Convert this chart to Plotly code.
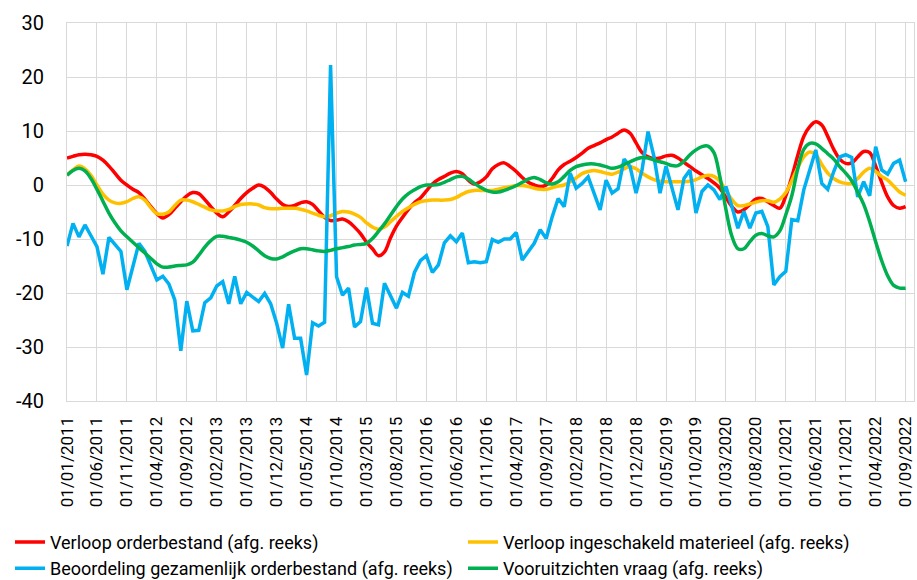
import pandas as pd
import plotly.graph_objects as go

months = pd.date_range("2011-01-01", "2022-09-01", freq="MS").strftime("%d/%m/%Y").tolist()

tick_labels = ["01/01/2011", "01/06/2011", "01/11/2011", "01/04/2012", "01/09/2012",
               "01/02/2013", "01/07/2013", "01/12/2013", "01/05/2014", "01/10/2014",
               "01/03/2015", "01/08/2015", "01/01/2016", "01/06/2016", "01/11/2016",
               "01/04/2017", "01/09/2017", "01/02/2018", "01/07/2018", "01/12/2018",
               "01/05/2019", "01/10/2019", "01/03/2020", "01/08/2020", "01/01/2021",
               "01/06/2021", "01/11/2021", "01/04/2022", "01/09/2022"]

y_ticks = [30, 20, 10, 0, -10, -20, -30, -40]

red = [5.0, 5.3, 5.6, 5.7, 5.6, 5.3, 4.6, 3.5, 2.2, 0.9,
       0.0, -0.8, -1.4, -2.6, -4.0, -5.3, -6.1, -5.5, -4.3, -3.1,
       -2.0, -1.4, -1.6, -2.7, -4.0, -5.2, -5.9, -5.0, -3.8, -2.5,
       -1.4, -0.6, 0.0, -0.4, -1.4, -2.6, -3.6, -4.0, -3.8, -3.3,
       -3.1, -3.6, -4.8, -6.0, -6.6, -6.5, -6.3, -6.8, -7.8, -9.0,
       -10.6, -11.8, -13.1, -12.4, -9.8, -7.6, -6.0, -4.5, -3.3, -2.4,
       -1.1, 0.2, 1.0, 1.6, 2.2, 2.5, 2.1, 0.9, 0.2, 0.6,
       1.5, 3.0, 3.8, 4.1, 3.4, 2.5, 1.4, 0.5, 0.0, -0.3,
       0.0, 1.2, 2.8, 3.8, 4.4, 5.1, 5.9, 6.8, 7.3, 7.8,
       8.4, 8.9, 9.6, 10.2, 9.6, 7.8, 6.0, 5.2, 4.9, 5.0,
       5.4, 5.5, 5.0, 4.2, 3.4, 2.6, 1.9, 1.2, 0.4, -0.6,
       -2.3, -4.0, -5.0, -4.6, -3.6, -2.6, -2.5, -3.1, -3.8, -4.3,
       -2.0, 1.5, 5.5, 9.0, 10.8, 11.7, 11.1, 9.0, 6.6, 4.8,
       4.0, 4.1, 5.2, 6.2, 6.0, 3.5, 0.5, -2.2, -3.8, -4.3,
       -4.0]

yellow = [1.8, 2.8, 3.5, 3.0, 1.8, 0.0, -1.7, -2.8, -3.3, -3.4,
          -3.1, -2.5, -2.2, -2.8, -4.2, -5.3, -5.4, -5.0, -3.8, -2.8,
          -2.8, -3.1, -3.6, -4.1, -4.6, -4.8, -4.8, -4.5, -4.0, -3.6,
          -3.5, -3.5, -3.7, -4.2, -4.4, -4.4, -4.3, -4.3, -4.3, -4.5,
          -4.8, -5.2, -5.6, -5.9, -5.7, -5.2, -4.9, -5.0, -5.4, -6.0,
          -7.0, -7.8, -8.2, -7.8, -6.8, -5.8, -4.9, -4.2, -3.6, -3.1,
          -2.9, -2.8, -2.8, -2.8, -2.7, -2.3, -1.7, -1.2, -1.0, -1.0,
          -1.0, -1.0, -0.8, -0.5, -0.3, -0.1, -0.1, -0.3, -0.6, -0.8,
          -0.8, -0.5, -0.2, 0.0, 0.6, 1.3, 2.1, 2.5, 2.7, 2.5,
          2.2, 2.0, 2.4, 3.0, 3.4, 3.0, 2.2, 1.5, 1.0, 0.7,
          0.6, 0.6, 0.6, 0.6, 0.7, 1.0, 1.5, 1.8, 1.6, 0.7,
          -1.0, -2.7, -3.8, -3.8, -3.5, -3.2, -2.9, -2.9, -3.2, -2.6,
          -1.4, 0.8, 3.2, 5.2, 6.1, 5.6, 3.8, 2.2, 1.2, 0.6,
          0.3, 0.3, 1.2, 2.4, 3.1, 2.5, 1.6, 0.9, -0.2, -1.3,
          -1.9]

blue = [-11.3, -7.1, -9.6, -7.4, -9.4, -11.4, -16.5, -9.7, -11.0, -12.3,
        -19.4, -15.0, -10.8, -12.3, -15.0, -17.6, -16.9, -18.3, -21.3, -30.7,
        -21.5, -27.0, -26.9, -21.8, -20.9, -18.7, -17.9, -22.0, -16.9, -22.0,
        -19.9, -20.8, -21.6, -20.1, -22.0, -25.6, -30.2, -22.1, -28.4, -28.4,
        -35.2, -25.5, -26.1, -25.4, 22.2, -17.0, -20.4, -19.1, -26.3, -25.3,
        -19.0, -25.6, -25.9, -18.2, -20.4, -22.8, -19.9, -20.6, -16.2, -14.0,
        -13.1, -16.2, -14.8, -10.7, -9.4, -10.5, -8.9, -14.4, -14.2, -14.4,
        -14.2, -10.1, -10.6, -10.0, -10.0, -8.8, -13.9, -12.3, -10.8, -8.3,
        -9.9, -5.9, -2.5, -4.0, 2.2, -0.6, 0.3, 1.5, -1.5, -4.6,
        0.9, -1.5, -0.7, 4.8, 3.4, -1.5, 2.8, 9.9, 5.2, -1.5,
        3.5, -0.3, -4.6, 1.2, 2.8, -5.2, -1.2, 0.0, -0.9, -2.7,
        -0.3, -4.0, -8.0, -4.9, -8.0, -5.2, -4.9, -7.7, -18.5, -17.0,
        -16.0, -6.4, -6.6, -0.9, 3.1, 6.5, 0.3, -0.8, 2.5, 5.2,
        5.6, 5.1, -2.2, 0.6, -2.0, 7.1, 2.8, 2.0, 4.0, 4.6,
        0.6]

green = [1.8, 2.7, 3.1, 2.6, 1.2, -0.8, -3.0, -5.2, -7.0, -8.5,
         -9.6, -10.6, -11.6, -12.6, -13.6, -14.6, -15.2, -15.2, -15.0, -14.9,
         -14.8, -14.3, -13.0, -11.5, -10.3, -9.5, -9.5, -9.7, -9.9, -10.2,
         -10.6, -11.3, -12.2, -13.1, -13.6, -13.7, -13.3, -12.7, -12.2, -11.8,
         -11.8, -12.0, -12.2, -12.3, -12.1, -11.8, -11.6, -11.4, -11.1, -11.0,
         -10.8, -9.9, -8.6, -7.2, -5.6, -4.0, -2.6, -1.6, -0.9, -0.3,
         0.0, 0.0, 0.1, 0.5, 1.0, 1.5, 1.6, 1.1, 0.3, -0.4,
         -1.0, -1.3, -1.3, -1.0, -0.6, -0.1, 0.5, 1.1, 1.4, 1.0,
         0.4, 0.2, 0.6, 1.6, 2.7, 3.4, 3.7, 3.9, 3.9, 3.7,
         3.4, 3.1, 3.3, 3.8, 4.3, 4.8, 5.1, 5.0, 4.6, 4.3,
         4.0, 3.6, 3.6, 4.4, 5.6, 6.5, 7.1, 7.2, 6.0, 1.5,
         -4.5, -9.5, -11.8, -11.8, -10.5, -9.3, -9.0, -9.4, -9.6, -8.5,
         -5.5, -2.0, 3.0, 6.6, 7.7, 7.6, 6.8, 5.8, 4.8, 3.4,
         2.2, 0.8, -1.3, -3.6, -6.8, -10.5, -14.0, -16.8, -18.6, -19.1,
         -19.1]

# (name, values, colour, line shape, legend column)
series = [
    ("Verloop orderbestand (afg. reeks)", red, "#FF0000", "spline", "legend"),
    ("Verloop ingeschakeld materieel (afg. reeks)", yellow, "#FFC000", "spline", "legend2"),
    ("Beoordeling gezamenlijk orderbestand (afg. reeks)", blue, "#00B0F0", "linear", "legend"),
    ("Vooruitzichten vraag (afg. reeks)", green, "#00B050", "spline", "legend2"),
]

fig = go.Figure()
for name, vals, color, shape, leg in series:
    fig.add_trace(go.Scatter(
        x=months, y=vals, name=name, mode="lines",
        line=dict(color=color, width=3.5, shape=shape),
        legend=leg,
    ))

legend_style = dict(
    orientation="v", xref="container", yref="container",
    xanchor="left", yanchor="top",
    font=dict(size=18, family="Roboto", color="#000000"),
    itemwidth=30, tracegroupgap=0, traceorder="normal",
    bgcolor="rgba(0,0,0,0)",
)

fig.update_layout(
    width=917, height=580,
    margin=dict(l=67, r=3, t=23, b=179, autoexpand=False),
    paper_bgcolor="white", plot_bgcolor="white",
    font=dict(family="Roboto", color="#000000"),
    showlegend=True,
    legend=dict(x=10 / 917, y=0.097, **legend_style),
    legend2=dict(x=463 / 917, y=0.097, **legend_style),
)

fig.update_xaxes(
    type="category", range=[0, 141.4], automargin=False,
    tickmode="array", tickvals=tick_labels, ticktext=tick_labels,
    tickangle=-90, tickfont=dict(size=17, family="Roboto", color="#000000"),
    showgrid=True, gridcolor="#D9D9D9", gridwidth=1,
    showline=True, linecolor="#D9D9D9", linewidth=1, mirror=True,
    zeroline=False, ticks="", ticklabelstandoff=8,
)
fig.update_yaxes(
    range=[-40, 30], tickmode="array", tickvals=y_ticks, automargin=False,
    ticktext=[str(v) for v in y_ticks],
    tickfont=dict(size=20, family="Roboto", color="#000000"),
    showgrid=True, gridcolor="#D9D9D9", gridwidth=1,
    showline=True, linecolor="#D9D9D9", linewidth=1, mirror=True,
    zeroline=False, ticks="", ticklabelstandoff=18,
)

fig.write_html("out.html", config={"displayModeBar": False},
               post_script="document.body.style.margin='0px';")
